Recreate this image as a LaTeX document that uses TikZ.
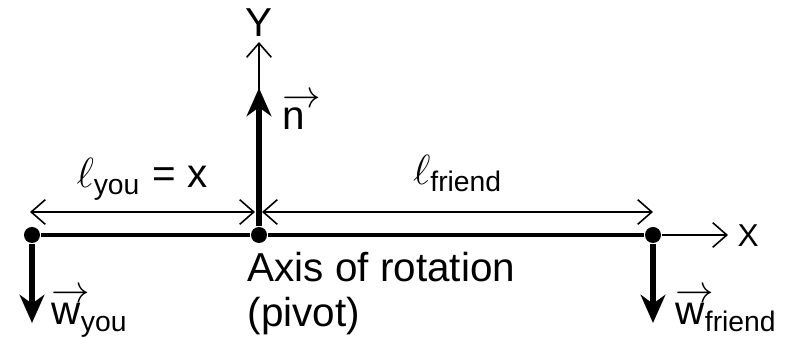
\documentclass[tikz,border=0pt]{standalone}
\usepackage{amsmath}
\usepackage{fontspec}
\setmainfont{Liberation Sans}
\usepackage{tikz}
\usetikzlibrary{arrows.meta,positioning}
\newcommand{\vecw}[1]{\mbox{\rlap{\raisebox{6.5pt}{\fontsize{10.5}{11}\selectfont$\rightarrow$}}#1}}

\begin{document}
\begin{tikzpicture}[
  dot/.style={circle,fill=black,inner sep=0pt,minimum size=1.6mm},
  beam/.style={line width=0.9pt},
  thinarrow/.style={line width=0.45pt,-{Straight Barb[length=4pt,width=7pt]}},
  dimline/.style={line width=0.45pt,{Straight Barb[length=4pt,width=7pt]}-{Straight Barb[length=4pt,width=7pt]}},
  force/.style={line width=1.6pt,-{Stealth[length=8pt,width=7pt,inset=2.5pt]}},
  lbl/.style={inner sep=0pt,font=\fontsize{11.5}{12.8}\selectfont}
]
\useasboundingbox (-2.59,-1.03) rectangle (5.29,2.35);
% beam with the three points
\node[dot] (you) at (-2.27,0) {};
\node[dot] (pivot) at (0,0) {};
\node[dot] (friend) at (3.94,0) {};
\draw[beam] (you) -- (pivot) -- (friend);
% axes
\coordinate (xtip) at (4.69,0);
\coordinate (ytip) at (0,1.93);
\draw[thinarrow] (friend) -- (xtip);
\draw[thinarrow] (pivot) -- (ytip);
\node[lbl,anchor=base west] (xlab) at (4.78,-0.12) {\fontsize{9}{10}\selectfont X};
\node[lbl,anchor=base] (ylab) at (0,1.98) {Y};
% forces
\coordinate (ntip) at (0,1.47);
\coordinate (wyoutip) at (-2.27,-0.88);
\coordinate (wfriendtip) at (3.94,-0.88);
\draw[force] (pivot) -- (ntip);
\draw[force] (you) -- (wyoutip);
\draw[force] (friend) -- (wfriendtip);
\node[lbl,anchor=base west] (nlab) at (0.23,1.05) {\vecw{n}};
\node[lbl,anchor=base west] (wyoulab) at (-2.08,-0.90) {\vecw{w}\textsubscript{you}};
\node[lbl,anchor=base west] (wfriendlab) at (4.16,-0.90) {\vecw{w}\textsubscript{friend}};
% lever arms
\coordinate (dA) at (-2.29,0.23);
\coordinate (dB) at (-0.04,0.23);
\coordinate (dC) at (0.03,0.23);
\coordinate (dD) at (3.94,0.23);
\draw[dimline] (dA) -- (dB);
\draw[dimline] (dC) -- (dD);
\node[lbl,anchor=base] (lyou) at (-1.17,0.47) {$\ell_{\text{you}}$ = x};
\node[lbl,anchor=base] (lfriend) at (1.99,0.50) {$\ell_{\text{friend}}$};
% pivot text
\node[lbl,anchor=north west,align=left] (axislab) at (-0.12,-0.17)
  {Axis of rotation\\(pivot)};
\end{tikzpicture}
\end{document}
